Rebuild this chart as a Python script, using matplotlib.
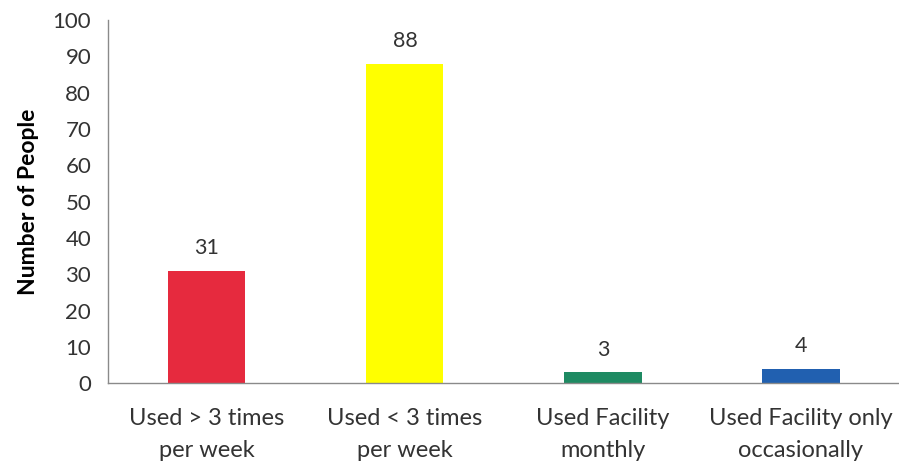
import matplotlib
matplotlib.use("Agg")
import matplotlib.pyplot as plt

categories = ["Used > 3 times\nper week", "Used < 3 times\nper week",
              "Used Facility\nmonthly", "Used Facility only\noccasionally"]
counts = [31, 88, 3, 4]
colors = ["#E62A3E", "#FFFF00", "#1E8A62", "#2160B0"]
yticks = list(range(0, 101, 10))

plt.rcParams['font.family'] = ['Lato', 'DejaVu Sans']

fig = plt.figure(figsize=(8.99, 4.65), dpi=100)
ax = fig.add_axes([0.120, 0.176, 0.881, 0.781])

x = range(len(counts))
bars = ax.bar(x, counts, width=0.39, color=colors)
for b, v in zip(bars, counts):
    ax.text(b.get_x() + b.get_width() / 2, v + 3.5, str(v),
            ha='center', va='bottom', fontsize=15.5, color='#333333')

ax.set_xlim(-0.5, 3.5)
ax.set_ylim(0, 100)
ax.set_yticks(yticks)
ax.set_xticks(list(x))
ax.set_xticklabels(categories, fontsize=17, color='#333333', linespacing=1.65)
ax.tick_params(axis='y', length=0, labelsize=16, labelcolor='#333333', pad=12)
ax.tick_params(axis='x', length=0, pad=18)
ax.set_ylabel("Number of People", fontsize=16.5, fontweight='bold', labelpad=10)

for s in ['top', 'right']:
    ax.spines[s].set_visible(False)
for s in ['left', 'bottom']:
    ax.spines[s].set_color('#8a8a8a')
    ax.spines[s].set_linewidth(1.0)

fig.savefig("out.png", dpi=100)
